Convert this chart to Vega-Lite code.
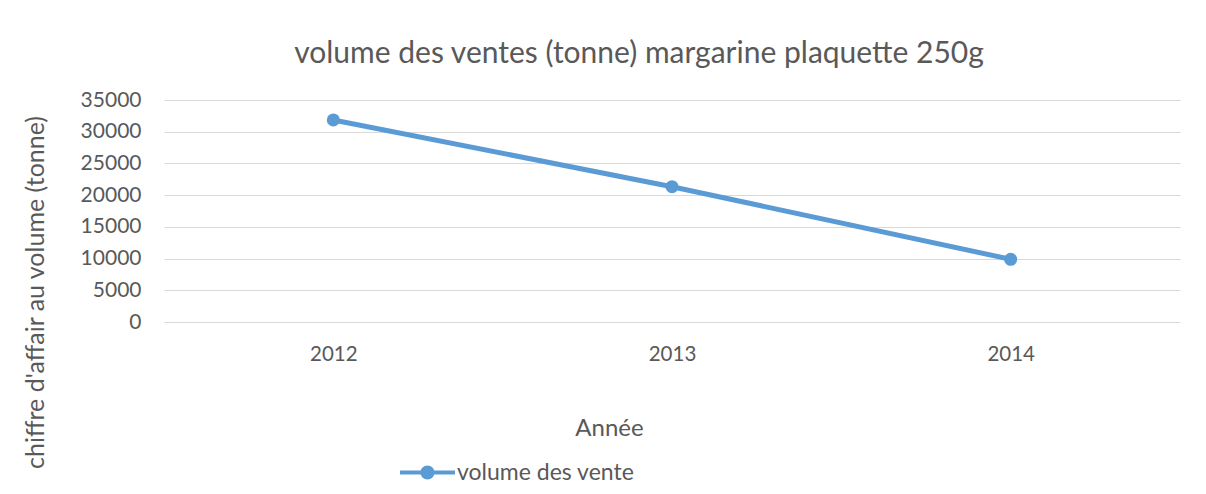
{
  "$schema": "https://vega.github.io/schema/vega-lite/v6.json",
  "width": 1016,
  "height": 222,
  "autosize": {"type": "none"},
  "padding": {"left": 164, "top": 100, "right": 26, "bottom": 172},
  "background": "white",
  "title": {
    "text": "volume des ventes (tonne) margarine plaquette 250g",
    "font": "Lato",
    "fontSize": 30,
    "fontWeight": "normal",
    "color": "#595959",
    "anchor": "middle",
    "dx": -33,
    "dy": 37,
    "offset": 33,
    "baseline": "alphabetic"
  },
  "config": {
    "view": {"stroke": null},
    "axis": {"labelFont": "Lato", "titleFont": "Lato", "labelColor": "#595959", "titleColor": "#595959", "titleFontWeight": "normal"}
  },
  "data": {
    "values": [
      {"annee": "2012", "volume": 31850, "serie": "volume des vente"},
      {"annee": "2013", "volume": 21330, "serie": "volume des vente"},
      {"annee": "2014", "volume": 9885, "serie": "volume des vente"}
    ]
  },
  "encoding": {
    "x": {
      "field": "annee",
      "type": "ordinal",
      "scale": {"type": "point", "padding": 0.5},
      "axis": {
        "title": "Année",
        "titleFontSize": 24,
        "titleX": 445,
        "titleY": 106,
        "titleAlign": "center",
        "titleBaseline": "middle",
        "labelAngle": 0,
        "labelFontSize": 20.5,
        "labelPadding": 22,
        "domain": false,
        "ticks": false,
        "tickSize": 0,
        "grid": false
      }
    },
    "y": {
      "field": "volume",
      "type": "quantitative",
      "scale": {"domain": [0, 35000]},
      "axis": {
        "title": "chiffre d'affair au volume (tonne)",
        "titleFontSize": 25,
        "titleX": -129,
        "titleY": 192,
        "titleAngle": -90,
        "titleAlign": "center",
        "titleBaseline": "middle",
        "values": [0, 5000, 10000, 15000, 20000, 25000, 30000, 35000],
        "format": "d",
        "labelFontSize": 21,
        "labelPadding": 23,
        "domain": false,
        "ticks": false,
        "tickSize": 0,
        "grid": true,
        "gridColor": "#d9d9d9",
        "gridWidth": 1.2
      }
    },
    "color": {
      "field": "serie",
      "type": "nominal",
      "scale": {"range": ["#5b9bd5"]},
      "legend": {
        "title": null,
        "orient": "none",
        "legendX": 236,
        "legendY": 345,
        "padding": 0,
        "symbolType": "M-1,-0.073 L1,-0.073 L1,0.073 L-1,0.073 Z M-0.255,0 A0.255,0.255 0 1,1 0.255,0 A0.255,0.255 0 1,1 -0.255,0 Z",
        "symbolSize": 3025,
        "symbolStrokeWidth": 0,
        "symbolFillColor": "#5b9bd5",
        "labelFont": "Lato",
        "labelFontSize": 23,
        "labelLimit": 500,
        "labelColor": "#595959",
        "labelOffset": 2,
        "encode": {
          "symbols": {"update": {"fill": {"value": "#5b9bd5"}, "strokeWidth": {"value": 0}, "opacity": {"value": 1}}}
        }
      }
    }
  },
  "layer": [
    {"mark": {"type": "line", "strokeWidth": 5}},
    {"mark": {"type": "point", "filled": true, "size": 170, "opacity": 1}}
  ]
}
